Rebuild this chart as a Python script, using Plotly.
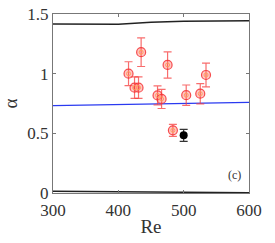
import plotly.graph_objects as go

re_exp = [415.6, 424.8, 430.9, 434.9, 460.0, 466.2, 475.4, 483.5, 503.9, 525.4, 534.2]
alpha_exp = [1.0, 0.883, 0.883, 1.18, 0.818, 0.788, 1.073, 0.525, 0.82, 0.832, 0.989]
alpha_err = [0.10, 0.09, 0.09, 0.12, 0.08, 0.08, 0.11, 0.05, 0.085, 0.085, 0.10]

re_black = [500]
alpha_black = [0.483]
alpha_black_err = [0.05]

re_top = [300, 400, 450, 500, 600]
alpha_top = [1.417, 1.414, 1.43, 1.44, 1.444]
re_bot = [300, 400, 500, 600]
alpha_bot = [0.015, 0.01, 0.005, 0.002]
re_blue = [300, 600]
alpha_blue = [0.732, 0.76]

x_ticks = [300, 400, 500, 600]
y_ticks = [0, 0.5, 1, 1.5]
y_tick_text = ["0", "0.5", "1", "1.5"]

SERIF = "Liberation Serif, Times New Roman, DejaVu Serif, serif"

fig = go.Figure()
fig.add_trace(go.Scatter(x=re_top, y=alpha_top, mode="lines",
                         line=dict(color="#222", width=1.5), showlegend=False))
fig.add_trace(go.Scatter(x=re_bot, y=alpha_bot, mode="lines",
                         line=dict(color="#222", width=1.5), showlegend=False))
fig.add_trace(go.Scatter(x=re_blue, y=alpha_blue, mode="lines",
                         line=dict(color="#2a3af0", width=1.3), showlegend=False))
fig.add_trace(go.Scatter(
    x=re_exp, y=alpha_exp, mode="markers",
    marker=dict(symbol="circle", size=9, color="rgba(255,90,90,0.35)",
                line=dict(color="rgba(245,50,50,0.85)", width=1.2)),
    error_y=dict(type="data", array=alpha_err, color="rgba(245,60,60,0.75)",
                 thickness=1.2, width=4),
    showlegend=False))
fig.add_trace(go.Scatter(
    x=re_exp, y=alpha_exp, mode="markers",
    marker=dict(symbol="circle-open", size=4, line=dict(color="rgba(235,40,40,0.8)", width=1)),
    showlegend=False, hoverinfo="skip"))
fig.add_trace(go.Scatter(
    x=re_black, y=alpha_black, mode="markers",
    marker=dict(symbol="circle", size=8, color="black"),
    error_y=dict(type="data", array=alpha_black_err, color="#333", thickness=1.2, width=4),
    showlegend=False))

axis_common = dict(showgrid=False, zeroline=False, showline=True, linecolor="#777",
                   linewidth=1, mirror="ticks", ticks="inside", ticklen=3,
                   tickcolor="#777", automargin=False,
                   tickfont=dict(family=SERIF, size=17, color="#333"))
fig.update_xaxes(range=[300, 600], tickvals=x_ticks, ticklabelstandoff=2,
                 title=dict(text="Re", font=dict(family=SERIF, size=19, color="#333"),
                            standoff=0),
                 **axis_common)
fig.update_yaxes(range=[0, 1.5], tickvals=y_ticks, ticktext=y_tick_text,
                 title=dict(text="α", font=dict(family=SERIF, size=19, color="#333"),
                            standoff=4),
                 **axis_common)
fig.add_annotation(x=0.97, y=0.1, xref="paper", yref="paper", text="(c)", showarrow=False,
                   xanchor="right", yanchor="middle",
                   font=dict(family=SERIF, size=12, color="#333"))
fig.update_layout(width=275, height=243, margin=dict(l=53, r=26, t=14, b=50),
                  paper_bgcolor="white", plot_bgcolor="white")
fig.write_html("out.html", config={"displayModeBar": False},
               post_script="document.body.style.margin='0';")
